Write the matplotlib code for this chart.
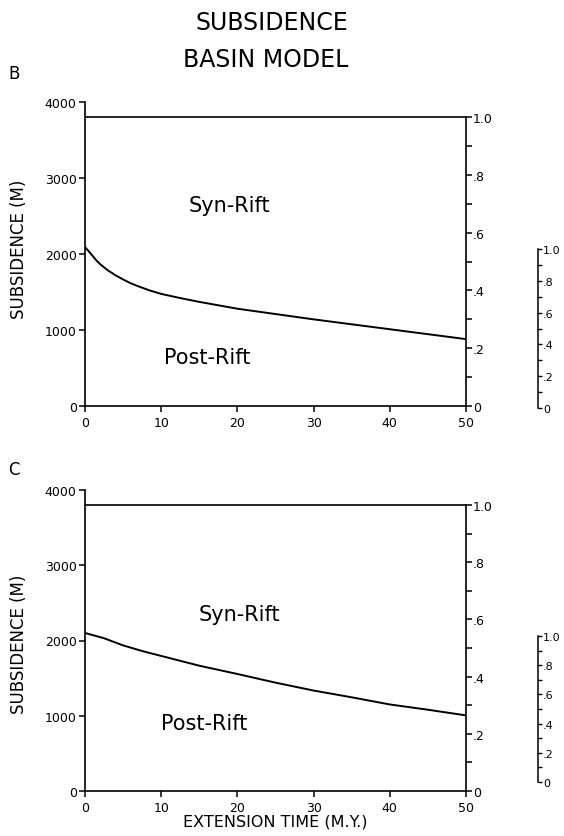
import matplotlib
matplotlib.use("Agg")
import matplotlib.pyplot as plt
from matplotlib.ticker import FixedLocator, MultipleLocator

# ── data ────────────────────────────────────────────────────────────────────
time_b = [0, 0.5, 1, 1.5, 2, 3, 4, 5, 6, 7, 8.5, 10, 12.5, 15, 20, 25,
          30, 35, 40, 45, 50]
subs_b = [2090, 2035, 1975, 1915, 1865, 1785, 1720, 1665, 1615, 1575,
          1520, 1475, 1420, 1370, 1280, 1210, 1140, 1075, 1010, 945, 880]

time_c = [0, 2.5, 5, 7.5, 10, 15, 20, 25, 30, 35, 40, 45, 50]
subs_c = [2100, 2030, 1935, 1860, 1795, 1665, 1555, 1440, 1335, 1245,
          1150, 1080, 1005]

x_ticks = [0, 10, 20, 30, 40, 50]
left_ticks = [0, 1000, 2000, 3000, 4000]
frac_ticks = [0, 0.2, 0.4, 0.6, 0.8, 1.0]
frac_labels = ["0", ".2", ".4", ".6", ".8", "1.0"]
top_level = 3800   # where fraction 1.0 sits on the subsidence scale

W, H = 564, 837
fig = plt.figure(figsize=(W / 100, H / 100), dpi=100)
plt.rcParams["font.family"] = ["DejaVu Sans"]

fig.text(272 / W, 1 - 23 / H, "SUBSIDENCE", ha="center", va="center", fontsize=17)
fig.text(266 / W, 1 - 60 / H, "BASIN MODEL", ha="center", va="center", fontsize=17)


def panel(rect, t, s, letter, letter_y, syn_xy, post_xy, label_y, xlabel, bar_rect):
    ax = fig.add_axes(rect)
    ax.plot(t, s, color="black", linewidth=1.4)
    ax.axhline(top_level, color="black", linewidth=1.2)
    ax.set_xlim(0, 50)
    ax.set_ylim(0, 4000)
    ax.spines["top"].set_visible(False)
    ax.spines["right"].set_visible(False)
    for sp in ["left", "bottom"]:
        ax.spines[sp].set_linewidth(1.2)
    ax.set_xticks(x_ticks)
    ax.set_yticks(left_ticks)
    ax.tick_params(axis="both", direction="out", length=4, width=1.1,
                   labelsize=9, pad=2)
    ax.tick_params(axis="x", pad=3)
    ax.set_ylabel("SUBSIDENCE (M)", fontsize=12)
    ax.yaxis.set_label_coords(-0.15, label_y)
    if xlabel:
        ax.set_xlabel(xlabel, fontsize=11.5, labelpad=0)

    ax.text(*syn_xy, "Syn-Rift", ha="center", va="center", fontsize=15)
    ax.text(*post_xy, "Post-Rift", ha="center", va="center", fontsize=15)

    # right-hand fraction scale
    ax2 = ax.twinx()
    ax2.set_ylim(0, 4000 / top_level)
    for sp in ["top", "left", "bottom"]:
        ax2.spines[sp].set_visible(False)
    ax2.spines["right"].set_bounds(0, 1.0)
    ax2.spines["right"].set_linewidth(1.2)
    ax2.yaxis.set_major_locator(FixedLocator(frac_ticks))
    ax2.set_yticklabels(frac_labels)
    ax2.yaxis.set_minor_locator(MultipleLocator(0.1))
    ax2.tick_params(axis="y", which="both", direction="out", length=4,
                    width=1.1, labelsize=9, pad=1)

    # small stand-alone scale bar
    bar = fig.add_axes(bar_rect)
    bar.set_ylim(0, 1.0)
    bar.set_xticks([])
    for sp in ["top", "left", "bottom"]:
        bar.spines[sp].set_visible(False)
    bar.spines["right"].set_linewidth(1.1)
    bar.yaxis.tick_right()
    bar.yaxis.set_major_locator(FixedLocator(frac_ticks))
    bar.set_yticklabels(frac_labels)
    bar.yaxis.set_minor_locator(MultipleLocator(0.1))
    bar.tick_params(axis="y", which="both", direction="out", length=3,
                    width=1.0, labelsize=8, pad=0.5)
    bar.patch.set_visible(False)

    fig.text(8 / W, 1 - letter_y / H, letter, ha="left", va="center", fontsize=12)
    return ax


panel([85 / W, 1 - 407 / H, 381 / W, 304 / H], time_b, subs_b,
      "B", 74, (19, 2645), (16, 645), 0.52, None,
      [537 / W, 1 - 409 / H, 0.002, 159 / H])
panel([85 / W, 1 - 792 / H, 381 / W, 301 / H], time_c, subs_c,
      "C", 470, (20.3, 2350), (15.7, 900), 0.49, "EXTENSION TIME (M.Y.)",
      [537 / W, 1 - 783 / H, 0.002, 146 / H])

fig.savefig("out.png", dpi=100)
